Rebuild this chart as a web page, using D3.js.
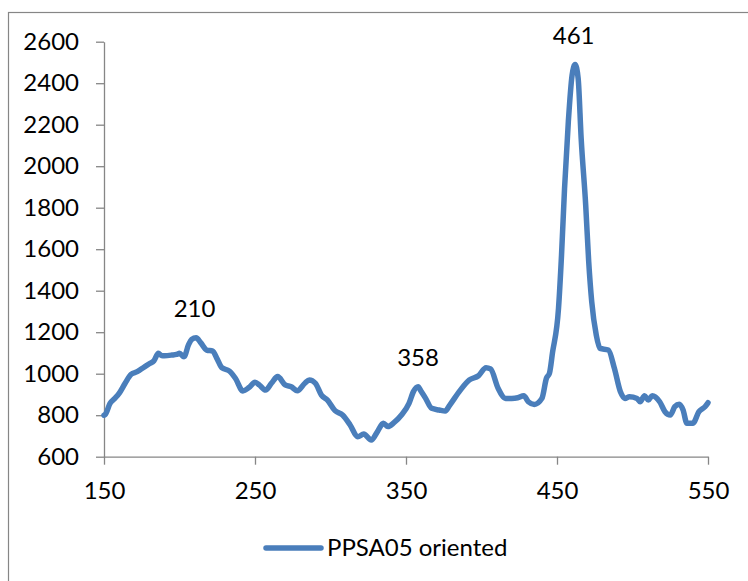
<!DOCTYPE html>
<html>
<head>
<meta charset="utf-8">
<script src="https://cdn.jsdelivr.net/npm/d3@7"></script>
<style>
  html, body { margin: 0; padding: 0; background: #fff; }
  svg { display: block; }
  text { font-family: Lato, "Open Sans", sans-serif; fill: #000; }
</style>
</head>
<body>
<svg id="chart" width="748" height="581"></svg>
<script>
// Raman shift (cm-1) and intensity of the oriented PPSA05 sample
const shift = [150, 151, 154, 157, 160, 164, 168, 172, 176, 180, 183, 186, 188, 190, 195, 198, 200, 203,
  206, 208, 211, 214, 218, 222, 225, 228, 233, 237, 242, 246, 250, 253, 257, 261, 265, 270, 274, 278,
  283, 286, 290, 294, 298, 303, 308, 313, 318, 322, 327, 331, 335, 338, 342, 347, 352, 355, 358, 360,
  363, 367, 372, 376, 379, 386, 392, 398, 403, 406, 411, 416, 420, 424, 428, 431, 435, 440, 443, 445,
  447, 451, 453, 455, 457.5, 460, 462, 464, 466, 469, 471, 473, 476, 478.5, 484, 488, 492, 495, 498,
  503, 505, 508, 510.5, 513, 518, 521.5, 525, 528, 531, 533.5, 536, 540, 544, 548, 550];
const intensity = [800, 805, 857, 880, 905, 954, 997, 1010, 1029, 1048, 1062, 1098, 1088, 1087, 1090, 1093, 1098, 1082,
  1140, 1165, 1173, 1150, 1114, 1109, 1070, 1029, 1013, 978, 917, 933, 959, 945, 921, 955, 986, 946, 937, 918,
  954, 970, 954, 897, 873, 822, 801, 753, 696, 709, 680, 720, 761, 745, 764, 801, 857, 915, 937, 915,
  881, 833, 825, 820, 849, 921, 970, 990, 1029, 1023, 930, 881, 881, 884, 894, 865, 852, 881, 978, 1002,
  1100, 1315, 1572, 1893, 2214, 2439, 2490, 2424, 2134, 1813, 1540, 1347, 1187, 1122, 1114, 1026, 913, 881, 889,
  881, 865, 894, 873, 894, 865, 817, 801, 841, 853, 825, 761, 761, 817, 841, 860];

const seriesName = "PPSA05 oriented";
const peakLabels = [210, 358, 461];
const xTicks = [150, 250, 350, 450, 550];
const yTicks = [600, 800, 1000, 1200, 1400, 1600, 1800, 2000, 2200, 2400, 2600];

const points = shift.map((s, i) => ({ x: s, y: intensity[i] }));

const svg = d3.select("#chart");
const axisColor = "#868686";
const lineColor = "#4a7ebb";
const fontSize = 24;

// chart frame
svg.append("rect")
  .attr("x", 8.5).attr("y", 12.5)
  .attr("width", 900).attr("height", 700)
  .attr("fill", "none").attr("stroke", axisColor).attr("stroke-width", 1.2);

const x = d3.scaleLinear().domain([150, 550]).range([104, 708]);
const y = d3.scaleLinear().domain([600, 2600]).range([456.7, 41.7]);

// y axis
const gy = svg.append("g")
  .attr("transform", `translate(${x(150)},0)`)
  .call(d3.axisLeft(y).tickValues(yTicks).tickFormat(d3.format("d"))
    .tickSize(8).tickPadding(17).tickSizeOuter(0));

// x axis
const gx = svg.append("g")
  .attr("transform", `translate(0,${y(600)})`)
  .call(d3.axisBottom(x).tickValues(xTicks).tickFormat(d3.format("d"))
    .tickSize(8).tickPadding(17).tickSizeOuter(0));

[gx, gy].forEach(g => {
  g.select(".domain").attr("stroke", axisColor).attr("stroke-width", 1.3);
  g.selectAll(".tick line").attr("stroke", axisColor).attr("stroke-width", 1.3);
  g.selectAll(".tick text")
    .attr("font-family", "Lato, 'Open Sans', sans-serif")
    .attr("font-size", fontSize).attr("fill", "#000");
});

// spectrum
const line = d3.line()
  .x(d => x(d.x))
  .y(d => y(d.y))
  .curve(d3.curveMonotoneX);

svg.append("path")
  .datum(points)
  .attr("d", line)
  .attr("fill", "none")
  .attr("stroke", lineColor)
  .attr("stroke-width", 5.5)
  .attr("stroke-linejoin", "round")
  .attr("stroke-linecap", "round");

// peak position labels above the local maxima
peakLabels.forEach(p => {
  const near = points.filter(d => Math.abs(d.x - p) <= 4);
  const top = d3.max(near, d => d.y);
  svg.append("text")
    .attr("x", x(p))
    .attr("y", y(top) - 21)
    .attr("text-anchor", "middle")
    .attr("font-size", fontSize)
    .text(p);
});

// legend
const legend = svg.append("g");
legend.append("line")
  .attr("x1", 266).attr("x2", 321)
  .attr("y1", 548).attr("y2", 548)
  .attr("stroke", lineColor).attr("stroke-width", 5.5)
  .attr("stroke-linecap", "round");
legend.append("text")
  .attr("x", 327).attr("y", 556)
  .attr("font-size", fontSize)
  .text(seriesName);
</script>
</body>
</html>
